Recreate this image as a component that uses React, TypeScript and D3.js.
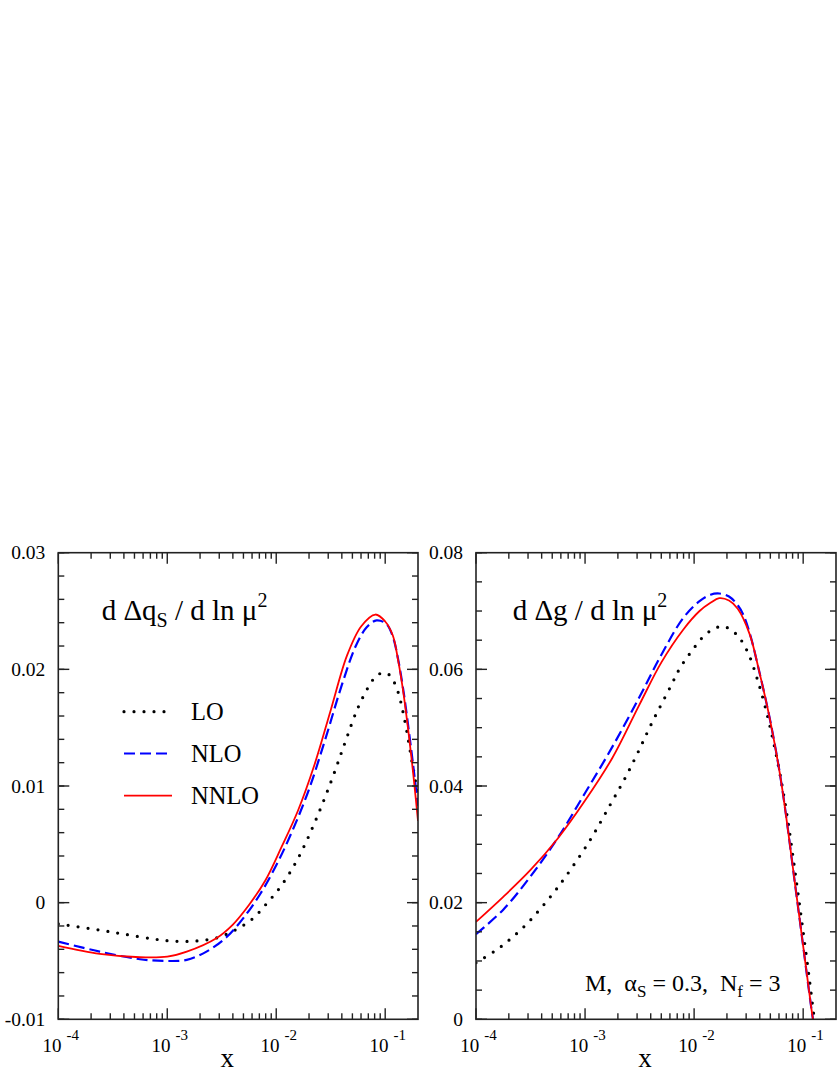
import React from "react";
import * as d3 from "d3";

// ---------- data ----------
// Left panel: d Δq_S / d ln μ²
const qLO_x = [1e-4, 2.14e-4, 4.07e-4, 7.76e-4, 1.2e-3, 1.86e-3, 2.82e-3, 4.22e-3, 6.03e-3, 8.13e-3, 1.122e-2, 1.585e-2, 2.239e-2, 3.162e-2, 4.27e-2, 5.62e-2, 7.24e-2, 8.41e-2, 0.1023, 0.1175, 0.1318, 0.1445, 0.1585, 0.1738, 0.1905, 0.2];
const qLO_y = [-0.00182, -0.00228, -0.00271, -0.00314, -0.00331, -0.00328, -0.00303, -0.00234, -0.0014, -0.0001, 0.0015, 0.0038, 0.0068, 0.0103, 0.0137, 0.0167, 0.0187, 0.0195, 0.0197, 0.0191, 0.018, 0.0165, 0.0146, 0.0124, 0.0103, 0.0091];

const qNLO_x = [1e-4, 2.4e-4, 5.62e-4, 1e-3, 1.51e-3, 2.29e-3, 3.55e-3, 5.01e-3, 7.08e-3, 1e-2, 1.413e-2, 1.995e-2, 2.818e-2, 3.981e-2, 5.37e-2, 6.76e-2, 8.32e-2, 0.1023, 0.1175, 0.1318, 0.1479, 0.166, 0.182, 0.2];
const qNLO_y = [-0.00334, -0.0042, -0.00485, -0.005, -0.0049, -0.0042, -0.0029, -0.0013, 0.0007, 0.0032, 0.0062, 0.0097, 0.014, 0.0186, 0.022, 0.0236, 0.0242, 0.0239, 0.0228, 0.0208, 0.018, 0.0145, 0.0115, 0.0083];

const qNNLO_x = [1e-4, 2.4e-4, 5.62e-4, 1e-3, 1.51e-3, 2.82e-3, 3.98e-3, 5.62e-3, 7.94e-3, 1.122e-2, 1.585e-2, 2.239e-2, 3.162e-2, 4.467e-2, 6.03e-2, 8.13e-2, 0.1, 0.1175, 0.1318, 0.1479, 0.166, 0.182, 0.2];
const qNNLO_y = [-0.00371, -0.0044, -0.00468, -0.00463, -0.0042, -0.00305, -0.0019, -0.0002, 0.0019, 0.0048, 0.0079, 0.0118, 0.0165, 0.0212, 0.0237, 0.0247, 0.0241, 0.0229, 0.0207, 0.0178, 0.0141, 0.0108, 0.007];

// Right panel: d Δg / d ln μ²
const gLO_x = [1e-4, 1.57e-4, 2.2e-4, 3.01e-4, 4.0e-4, 5.3e-4, 6.78e-4, 1.11e-3, 1.69e-3, 2.32e-3, 3.08e-3, 4.07e-3, 6.1e-3, 7.41e-3, 9.48e-3, 1.256e-2, 1.549e-2, 1.824e-2, 2.208e-2, 2.63e-2, 3.162e-2, 3.802e-2, 4.467e-2, 5.248e-2, 6.166e-2, 7.244e-2, 8.511e-2, 0.1, 0.1148, 0.1265, 0.1349];
const gLO_y = [0.0097, 0.012, 0.0142, 0.0166, 0.0192, 0.022, 0.0247, 0.0307, 0.0367, 0.0413, 0.0459, 0.0507, 0.0571, 0.0602, 0.0631, 0.0659, 0.067, 0.0674, 0.0667, 0.0653, 0.0626, 0.0583, 0.0537, 0.0482, 0.0418, 0.034, 0.0247, 0.015, 0.0064, 0, -0.004];

const gNLO_x = [1e-4, 1.778e-4, 3.162e-4, 5.62e-4, 1e-3, 1.778e-3, 3.162e-3, 5.01e-3, 7.94e-3, 1.122e-2, 1.413e-2, 1.698e-2, 2.089e-2, 2.512e-2, 2.818e-2, 3.236e-2, 3.981e-2, 5.01e-2, 6.31e-2, 8.71e-2, 0.1194, 0.123, 0.1318];
const gNLO_y = [0.0146, 0.0188, 0.0245, 0.0311, 0.0388, 0.0467, 0.0553, 0.0625, 0.0688, 0.0717, 0.0728, 0.073, 0.0725, 0.071, 0.0694, 0.0662, 0.0594, 0.051, 0.0405, 0.0211, 0.0016, 0, -0.0045];

const gNNLO_x = [1e-4, 1.778e-4, 3.162e-4, 5.62e-4, 1e-3, 1.778e-3, 3.162e-3, 5.01e-3, 7.94e-3, 1.122e-2, 1.413e-2, 1.698e-2, 2.089e-2, 2.512e-2, 3.236e-2, 3.981e-2, 5.01e-2, 6.31e-2, 8.71e-2, 0.1194, 0.123, 0.1318];
const gNNLO_y = [0.0167, 0.021, 0.0256, 0.031, 0.0375, 0.0448, 0.054, 0.0612, 0.0668, 0.07, 0.0714, 0.0722, 0.0718, 0.0704, 0.066, 0.0594, 0.051, 0.0405, 0.0211, 0.0016, 0, -0.0045];

const xMajorTicks = [1e-4, 1e-3, 1e-2, 1e-1];
const xMajorExp = ["-4", "-3", "-2", "-1"];
const xDomain = [1e-4, 0.2];

const qYDomain = [-0.01, 0.03];
const qYMajor = [-0.01, 0, 0.01, 0.02, 0.03];
const qYLabels = ["-0.01", "0", "0.01", "0.02", "0.03"];
const qYMinorStep = 0.002;

const gYDomain = [0, 0.08];
const gYMajor = [0, 0.02, 0.04, 0.06, 0.08];
const gYLabels = ["0", "0.02", "0.04", "0.06", "0.08"];
const gYMinorStep = 0.005;

const legendNames = ["LO", "NLO", "NNLO"];

// ---------- styles ----------
const FONT = "'Liberation Serif', 'Times New Roman', Times, serif";
const STY = {
  LO: { stroke: "#000", strokeWidth: 3.2, strokeDasharray: "0 10", strokeLinecap: "round" as const },
  NLO: { stroke: "#0000ff", strokeWidth: 2.2, strokeDasharray: "11 5", strokeLinecap: "butt" as const },
  NNLO: { stroke: "#ff0000", strokeWidth: 1.8, strokeDasharray: undefined, strokeLinecap: "butt" as const },
};

type Series = { name: "LO" | "NLO" | "NNLO"; xs: number[]; ys: number[] };

function Panel(props: {
  id: string;
  x0: number; x1: number; y0: number; y1: number;
  yDomain: number[]; yMajor: number[]; yLabels: string[]; yMinorStep: number;
  series: Series[];
}) {
  const { id, x0, x1, y0, y1, yDomain, yMajor, yLabels, yMinorStep, series } = props;
  const xs = d3.scaleLog().domain(xDomain).range([x0, x1]);
  const ys = d3.scaleLinear().domain(yDomain).range([y1, y0]);
  const line = d3
    .line<[number, number]>()
    .x((d) => xs(d[0]))
    .y((d) => ys(d[1]))
    .curve(d3.curveCatmullRom.alpha(0.5));

  const xMinor: number[] = [];
  for (let e = -4; e <= -1; e++) {
    for (let k = 2; k <= 9; k++) {
      const v = k * Math.pow(10, e);
      if (v < xDomain[1] * 0.999) xMinor.push(v);
    }
  }
  const yMinor: number[] = [];
  const n = Math.round((yDomain[1] - yDomain[0]) / yMinorStep);
  for (let i = 0; i <= n; i++) yMinor.push(yDomain[0] + i * yMinorStep);

  const MJ = 11, MN = 6;
  const tickStroke = { stroke: "#222", strokeWidth: 1.4 };

  return (
    <g>
      <defs>
        <clipPath id={id}>
          <rect x={x0} y={y0} width={x1 - x0} height={y1 - y0} />
        </clipPath>
      </defs>
      <g clipPath={`url(#${id})`}>
        {series.map((s) => {
          const pts: [number, number][] = s.xs.map((x, i) => [x, s.ys[i]]);
          const st = STY[s.name];
          return (
            <path
              key={s.name}
              d={line(pts) || ""}
              fill="none"
              stroke={st.stroke}
              strokeWidth={st.strokeWidth}
              strokeDasharray={st.strokeDasharray}
              strokeLinecap={st.strokeLinecap}
            />
          );
        })}
      </g>
      {xMajorTicks.map((t) => (
        <g key={"xm" + t}>
          <line x1={xs(t)} x2={xs(t)} y1={y1} y2={y1 - MJ} {...tickStroke} />
          <line x1={xs(t)} x2={xs(t)} y1={y0} y2={y0 + MJ} {...tickStroke} />
        </g>
      ))}
      {xMinor.map((t) => (
        <g key={"xn" + t}>
          <line x1={xs(t)} x2={xs(t)} y1={y1} y2={y1 - MN} {...tickStroke} />
          <line x1={xs(t)} x2={xs(t)} y1={y0} y2={y0 + MN} {...tickStroke} />
        </g>
      ))}
      {yMajor.map((t) => (
        <g key={"ym" + t}>
          <line x1={x0} x2={x0 + MJ} y1={ys(t)} y2={ys(t)} {...tickStroke} />
          <line x1={x1} x2={x1 - MJ} y1={ys(t)} y2={ys(t)} {...tickStroke} />
        </g>
      ))}
      {yMinor.map((t, i) => (
        <g key={"yn" + i}>
          <line x1={x0} x2={x0 + MN} y1={ys(t)} y2={ys(t)} {...tickStroke} />
          <line x1={x1} x2={x1 - MN} y1={ys(t)} y2={ys(t)} {...tickStroke} />
        </g>
      ))}
      <rect x={x0} y={y0} width={x1 - x0} height={y1 - y0} fill="none" stroke="#222" strokeWidth={1.6} />
      {yMajor.map((t, i) => (
        <text key={"yl" + t} x={x0 - 13} y={ys(t) + 6.7} textAnchor="end" fontSize={19.5} fontFamily={FONT} fill="#000">
          {yLabels[i]}
        </text>
      ))}
      {xMajorTicks.map((t, i) => (
        <text key={"xl" + t} x={xs(t) - 15.8} y={1051.7} fontSize={19} fontFamily={FONT} fill="#000">
          10
          <tspan dx={5} dy={-11.5} fontSize={15}>
            {xMajorExp[i]}
          </tspan>
        </text>
      ))}
      <text x={(x0 + x1) / 2 - 11} y={1066.7} textAnchor="middle" fontSize={27} fontFamily={FONT} fill="#000">
        x
      </text>
    </g>
  );
}

export default function App() {
  const left: Series[] = [
    { name: "LO", xs: qLO_x, ys: qLO_y },
    { name: "NLO", xs: qNLO_x, ys: qNLO_y },
    { name: "NNLO", xs: qNNLO_x, ys: qNNLO_y },
  ];
  const right: Series[] = [
    { name: "LO", xs: gLO_x, ys: gLO_y },
    { name: "NLO", xs: gNLO_x, ys: gNLO_y },
    { name: "NNLO", xs: gNNLO_x, ys: gNNLO_y },
  ];
  const legendY = [711.7, 753.5, 795.7];
  return (
    <svg width={839} height={1086} style={{ position: "absolute", left: 0, top: 0, background: "#fff" }}>
      <rect x={0} y={0} width={839} height={1086} fill="#fff" />
      <Panel id="clipL" x0={58.3} x1={418} y0={552.7} y1={1019.3}
        yDomain={qYDomain} yMajor={qYMajor} yLabels={qYLabels} yMinorStep={qYMinorStep} series={left} />
      <Panel id="clipR" x0={476} x1={836} y0={552.7} y1={1019.3}
        yDomain={gYDomain} yMajor={gYMajor} yLabels={gYLabels} yMinorStep={gYMinorStep} series={right} />

      <text x={101.7} y={620} fontSize={29} fontFamily={FONT} fill="#000" style={{ whiteSpace: "pre" }}>
        {"d Δq"}
        <tspan fontSize={20} dy={7}>S</tspan>
        <tspan dy={-7}>{" / d ln μ"}</tspan>
        <tspan fontSize={20} dy={-13}>2</tspan>
      </text>
      <text x={512.7} y={620} fontSize={29} fontFamily={FONT} fill="#000" style={{ whiteSpace: "pre" }}>
        {"d Δg / d ln μ"}
        <tspan fontSize={20} dy={-13}>2</tspan>
      </text>

      {legendNames.map((nm, i) => {
        const st = STY[nm as "LO" | "NLO" | "NNLO"];
        return (
          <g key={nm}>
            <line x1={124} x2={172} y1={legendY[i]} y2={legendY[i]} stroke={st.stroke} strokeWidth={st.strokeWidth}
              strokeDasharray={st.strokeDasharray} strokeLinecap={st.strokeLinecap} />
            <text x={191} y={legendY[i] + 8} fontSize={24.5} fontFamily={FONT} fill="#000">{nm}</text>
          </g>
        );
      })}

      <text x={585} y={990.7} fontSize={24} fontFamily={FONT} fill="#000" style={{ whiteSpace: "pre" }}>
        {"M,  α"}
        <tspan fontSize={17} dy={6}>S</tspan>
        <tspan dy={-6}>{" = 0.3,  N"}</tspan>
        <tspan fontSize={17} dy={6}>f</tspan>
        <tspan dy={-6}>{" = 3"}</tspan>
      </text>
    </svg>
  );
}
